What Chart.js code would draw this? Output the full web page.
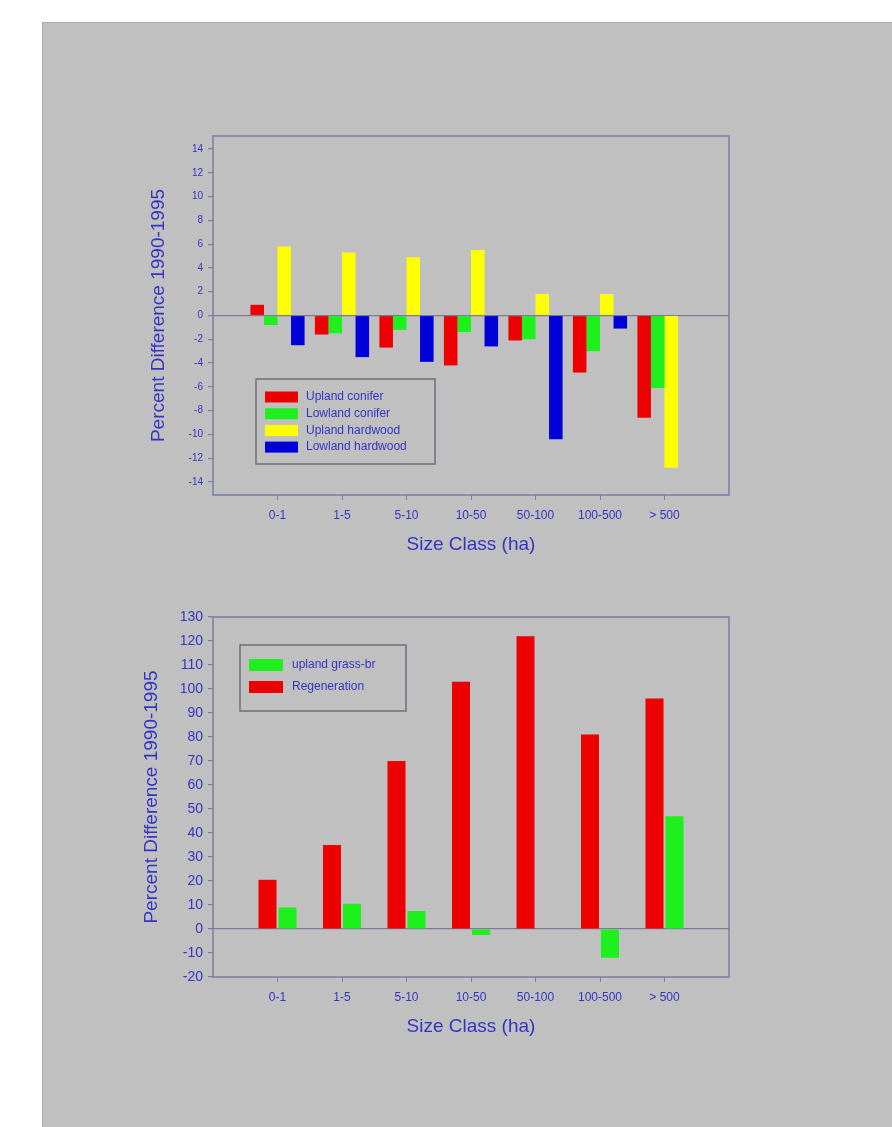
<!DOCTYPE html>
<html>
<head>
<meta charset="utf-8">
<script src="https://cdn.jsdelivr.net/npm/chart.js@4"></script>
<style>
  body { margin: 0; background: #fff; width: 892px; height: 1127px; overflow: hidden; }
  #panel { position: absolute; left: 42px; top: 22px; right: 0; bottom: 0; background: #c0c0c0;
           border-left: 1px solid #a9a9a9; border-top: 1px solid #a9a9a9; }
  canvas { position: absolute; }
</style>
</head>
<body>
<div id="panel"></div>
<canvas id="coverChart" width="620" height="450" style="left:130px;top:120px"></canvas>
<canvas id="regenChart" width="620" height="450" style="left:130px;top:600px"></canvas>
<script>
// Data
const sizeClasses = ['0-1', '1-5', '5-10', '10-50', '50-100', '100-500', '> 500'];

const uplandConifer   = [0.9, -1.6, -2.7, -4.2, -2.1, -4.8, -8.6];
const lowlandConifer  = [-0.8, -1.5, -1.2, -1.4, -2.0, -3.0, -6.1];
const uplandHardwood  = [5.8, 5.3, 4.9, 5.5, 1.8, 1.8, -12.8];
const lowlandHardwood = [-2.5, -3.5, -3.9, -2.6, -10.4, -1.1, 0];

const regeneration = [20.5, 35, 70, 103, 122, 81, 96];
const uplandGrass  = [9, 10.5, 7.5, -2.5, 0, -12, 47];

const coverTicks = [-14, -12, -10, -8, -6, -4, -2, 0, 2, 4, 6, 8, 10, 12, 14];
const regenTicks = [-20, -10, 0, 10, 20, 30, 40, 50, 60, 70, 80, 90, 100, 110, 120, 130];

// empty slot at each end so the groups sit in from the frame
const padLabels = ['', ...sizeClasses, ''];
const pad = arr => [null, ...arr, null];

const textBlue = '#3434c4';
const frameColor = '#7b7ba6';
const font = 'Liberation Sans, Arial, sans-serif';

// frame round the plot area + legend box inside it
const framePlugin = {
    id: 'frame',
    afterDatasetsDraw(chart, args, opts) {
        const {ctx, chartArea: a} = chart;
        ctx.save();
        ctx.strokeStyle = frameColor;
        ctx.lineWidth = 1.5;
        ctx.strokeRect(a.left, a.top, a.right - a.left, a.bottom - a.top);

        const lg = opts.legend;
        const x = a.left + lg.left, y = a.top + lg.top;
        ctx.strokeStyle = '#6e6e7c';
        ctx.strokeRect(x, y, lg.width, lg.height);
        ctx.font = lg.fontSize + 'px ' + font;
        ctx.textBaseline = 'middle';
        let sets = chart.data.datasets.slice();
        if (lg.reverse) sets.reverse();
        sets.forEach((ds, i) => {
            const cy = y + lg.firstRow + i * lg.rowHeight;
            ctx.fillStyle = ds.backgroundColor;
            ctx.fillRect(x + lg.swatchX, cy - lg.swatchH / 2, lg.swatchW, lg.swatchH);
            ctx.fillStyle = textBlue;
            ctx.fillText(ds.label, x + lg.textX, cy);
        });
        ctx.restore();
    }
};

function axes(tickValues, min, max, tickSize, yAxisWidth, xAxisHeight, yTitlePad, xTitlePad) {
    return {
        x: {
            offset: false,
            afterFit: s => { s.height = xAxisHeight; },
            grid: {
                offset: false,
                drawOnChartArea: false,
                tickLength: 5,
                tickColor: c => c.tick && c.tick.label ? frameColor : 'transparent'
            },
            border: { display: false },
            ticks: { color: textBlue, font: { family: font, size: 12 }, padding: 8, maxRotation: 0, autoSkip: false },
            title: { display: true, text: 'Size Class (ha)', color: textBlue,
                     font: { family: font, size: 19 }, padding: { top: 0, bottom: xTitlePad } }
        },
        y: {
            min: min,
            max: max,
            afterFit: s => { s.width = yAxisWidth; },
            afterBuildTicks: s => { s.ticks = tickValues.map(v => ({ value: v })); },
            grid: {
                drawOnChartArea: true,
                tickLength: 5,
                color: c => c.tick && c.tick.value === 0 ? '#7a7a98' : 'transparent',
                tickColor: frameColor,
                lineWidth: 1.2
            },
            border: { display: false },
            ticks: { color: textBlue, font: { family: font, size: tickSize }, padding: 5 },
            title: { display: true, text: 'Percent Difference 1990-1995', color: textBlue,
                     font: { family: font, size: 19 }, padding: { top: yTitlePad, bottom: 0 } }
        }
    };
}

// Chart 1: forest cover types
const ctxCover = document.getElementById('coverChart').getContext('2d');
const coverChart = new Chart(ctxCover, {
    type: 'bar',
    data: {
        labels: padLabels,
        datasets: [
            { label: 'Upland conifer', data: pad(uplandConifer), backgroundColor: '#ec0000' },
            { label: 'Lowland conifer', data: pad(lowlandConifer), backgroundColor: '#1ef01e' },
            { label: 'Upland hardwood', data: pad(uplandHardwood), backgroundColor: '#ffff00' },
            { label: 'Lowland hardwood', data: pad(lowlandHardwood), backgroundColor: '#0000d8' }
        ]
    },
    options: {
        responsive: false,
        animation: false,
        layout: { padding: { left: 0, right: 21, top: 16, bottom: 0 } },
        datasets: { bar: { barPercentage: 1.0, categoryPercentage: 0.84 } },
        plugins: {
            legend: { display: false },
            tooltip: { enabled: false },
            frame: {
                legend: { left: 43, top: 243, width: 179, height: 85, fontSize: 12,
                          firstRow: 18, rowHeight: 16.7, swatchX: 9, swatchW: 33, swatchH: 11, textX: 50,
                          reverse: false }
            }
        },
        scales: axes(coverTicks, -15.1, 15.1, 10, 83, 75, 17, 14)
    },
    plugins: [framePlugin]
});

// Chart 2: regeneration and upland grass-brush
const ctxRegen = document.getElementById('regenChart').getContext('2d');
const regenChart = new Chart(ctxRegen, {
    type: 'bar',
    data: {
        labels: padLabels,
        datasets: [
            { label: 'Regeneration', data: pad(regeneration), backgroundColor: '#ec0000' },
            { label: 'upland grass-br', data: pad(uplandGrass), backgroundColor: '#1ef01e' }
        ]
    },
    options: {
        responsive: false,
        animation: false,
        layout: { padding: { left: 0, right: 21, top: 17, bottom: 0 } },
        datasets: { bar: { barPercentage: 0.9, categoryPercentage: 0.62 } },
        plugins: {
            legend: { display: false },
            tooltip: { enabled: false },
            frame: {
                legend: { left: 27, top: 28, width: 166, height: 66, fontSize: 12,
                          firstRow: 20, rowHeight: 22, swatchX: 9, swatchW: 34, swatchH: 12, textX: 52,
                          reverse: true }
            }
        },
        scales: axes(regenTicks, -20, 130, 14, 83, 73, 10, 12)
    },
    plugins: [framePlugin]
});
</script>
</body>
</html>
